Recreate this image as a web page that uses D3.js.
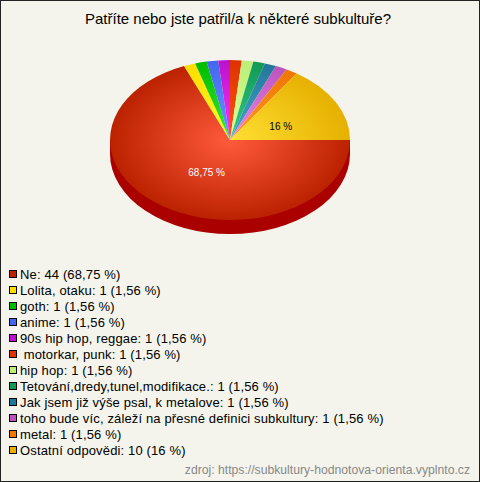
<!DOCTYPE html>
<html><head><meta charset="utf-8">
<script src="https://cdn.jsdelivr.net/npm/d3@7"></script>
<style>html,body{margin:0;padding:0;background:#f4f4ec}svg{display:block}</style>
</head><body><svg id="c" width="480" height="482"></svg>
<script>
const title = "Patříte nebo jste patřil/a k některé subkultuře?";
const sourceText = "zdroj: https://subkultury-hodnotova-orienta.vyplnto.cz";
const categories = ["Ne","Lolita, otaku","goth","anime","90s hip hop, reggae"," motorkar, punk","hip hop","Tetování,dredy,tunel,modifikace.","Jak jsem již výše psal, k metalove","toho bude víc, záleží na přesné definici subkultury","metal","Ostatní odpovědi"];
const values = [44,1,1,1,1,1,1,1,1,1,1,10];
const percentLabels = ["68,75 %","1,56 %","1,56 %","1,56 %","1,56 %","1,56 %","1,56 %","1,56 %","1,56 %","1,56 %","1,56 %","16 %"];
const edgeColors = ["#bb2200","#ffdd00","#00bb00","#4466ee","#bb11cc","#dd3300","#bbee77","#119955","#227799","#bb55bb","#ee7700","#e6b000"];
const centerColors = ["#ff5a3c","#ffff22","#33ee33","#6699ff","#ff33ff","#ff5511","#dfff99","#33cc88","#44aacc","#ee88ee","#ff9922","#ffe033"];
const sideColor = "#aa0000";
const sliceLabelColors = {0:"#fff",11:"#000"};
const sliceLabelNudge = {0:[8,1],11:[1,4]};

const svg = d3.select("#c");
const W=480,H=482,cx=230,cy=140,rx=120,ry=80,depth=14;
svg.append("rect").attr("x",.5).attr("y",.5).attr("width",W-1).attr("height",H-1).attr("fill","#f4f4ec").attr("stroke","#222");
svg.append("text").attr("x",238).attr("y",24).attr("text-anchor","middle").attr("font-family","Liberation Sans").attr("font-size",15).attr("fill","#000").text(title);

const defs = svg.append("defs");
categories.forEach((c,i)=>{
  const g = defs.append("radialGradient").attr("id","g"+i).attr("gradientUnits","userSpaceOnUse").attr("cx",0).attr("cy",0).attr("r",rx);
  g.append("stop").attr("offset",0).attr("stop-color",centerColors[i]);
  g.append("stop").attr("offset",1).attr("stop-color",edgeColors[i]);
});
const pie = d3.pie().sort(null).startAngle(Math.PI/2).endAngle(Math.PI/2+2*Math.PI);
const arcs = pie(values);
const arc = d3.arc().innerRadius(0).outerRadius(rx);

svg.append("g").attr("transform",`translate(${cx},${cy+depth}) scale(1,${ry/rx})`)
  .append("path").attr("d",arc({startAngle:Math.PI/2,endAngle:3*Math.PI/2})).attr("fill",sideColor);
svg.append("rect").attr("x",cx-rx).attr("y",cy).attr("width",2*rx).attr("height",depth).attr("fill",sideColor);

const pieTop = svg.append("g").attr("transform",`translate(${cx},${cy}) scale(1,${ry/rx})`);
pieTop.selectAll("path").data(arcs).join("path").attr("d",arc).attr("fill",(d,i)=>`url(#g${i})`);

const labelArc = d3.arc().innerRadius(rx*0.47).outerRadius(rx*0.47);
arcs.forEach((d,i)=>{
  if(!(i in sliceLabelColors))return;
  const p = labelArc.centroid(d);
  svg.append("text").attr("x",cx+p[0]+sliceLabelNudge[i][0]).attr("y",cy+p[1]*ry/rx+4+sliceLabelNudge[i][1]).attr("text-anchor","middle")
    .attr("font-family","Liberation Sans").attr("font-size",10).attr("fill",sliceLabelColors[i]).text(percentLabels[i]);
});

const legendY = d3.scalePoint().domain(d3.range(categories.length)).range([274,450]);
const lg = svg.append("g").selectAll("g").data(categories).join("g").attr("transform",(d,i)=>`translate(0,${legendY(i)})`);
lg.append("rect").attr("x",9.5).attr("y",-3.5).attr("width",7).attr("height",7).attr("fill",(d,i)=>edgeColors[i]).attr("stroke","#000");
lg.append("text").attr("x",20).attr("y",4.5).attr("font-family","Liberation Sans").attr("font-size",13).attr("letter-spacing",0.14).attr("fill","#000").style("white-space","pre")
  .text((d,i)=>`${d}: ${values[i]} (${percentLabels[i]})`);
svg.append("text").attr("x",470).attr("y",474).attr("text-anchor","end").attr("font-family","Liberation Sans").attr("font-size",12.2).attr("fill","#888").text(sourceText);
</script></body></html>
